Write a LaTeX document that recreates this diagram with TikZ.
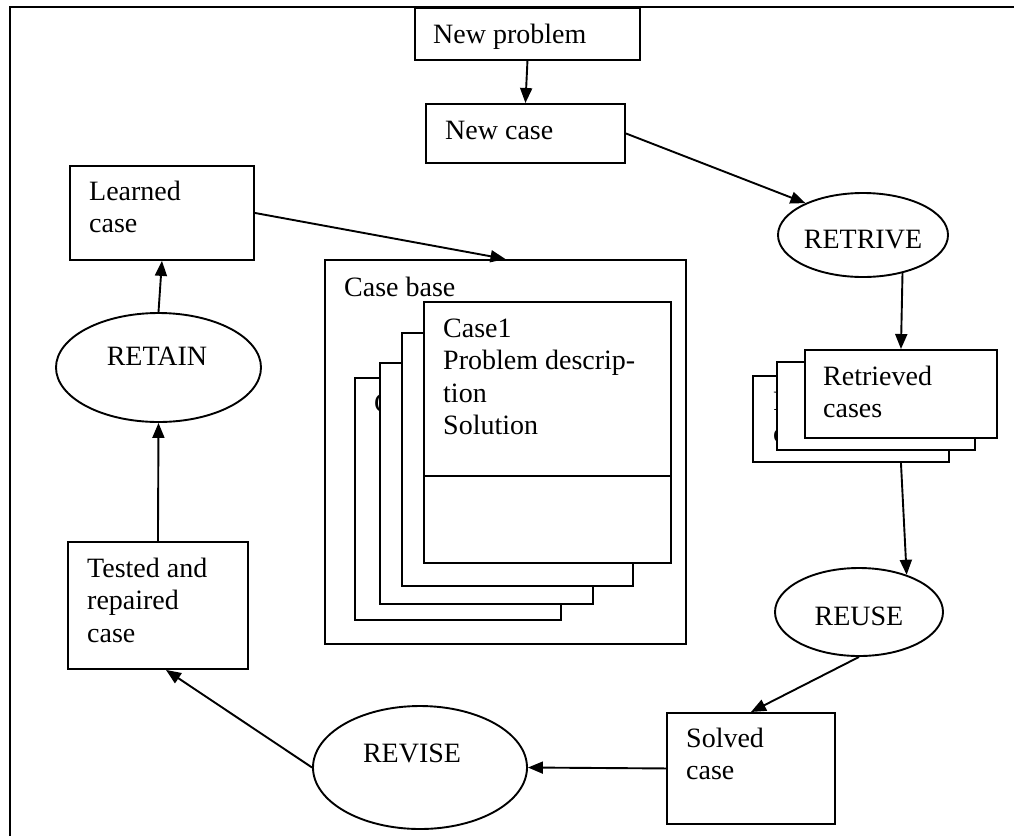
\documentclass[tikz,border=0pt]{standalone}
\usepackage{fontspec}
\setmainfont{Liberation Serif}
\usetikzlibrary{arrows.meta,shapes.geometric}
% left-aligned stack of lines whose baseline is the first line
\newcommand\stk[1]{\vtop{\halign{##\hfil\cr#1\crcr}}}

\begin{document}
\begin{tikzpicture}[x=1pt,y=-1pt,
  box/.style={draw, line width=1.9pt, fill=white, rectangle, inner sep=0pt, anchor=north west},
  oval/.style={draw, line width=1.9pt, fill=white, ellipse, inner sep=0pt},
  txt/.style={inner sep=0pt, anchor=base west, font=\fontsize{28}{32.5}\selectfont},
  ctxt/.style={inner sep=0pt, anchor=base, font=\fontsize{28}{32.5}\selectfont},
  arr/.style={line width=1.9pt, -{Triangle[length=15pt,width=12pt]}},
  frame/.style={line width=2.4pt}]

\useasboundingbox (0,0) rectangle (1014,836);

% outer frame (runs off the page at right and bottom)
\draw[frame] (10,836) -- (10,7) -- (1014,7);

% top: new problem / new case
\node[box, minimum width=225, minimum height=52] (np) at (414,7) {};
\node[txt] (npt) at (433,43) {New problem};
\node[box, minimum width=199, minimum height=59] (nc) at (425,103) {};
\node[txt] (nct) at (445,139) {New case};

% left column
\node[box, minimum width=184, minimum height=94] (lc) at (69,165) {};
\node[txt] (lct) at (89,200) {\stk{Learned\cr case}};
\node[oval, minimum width=205, minimum height=109] (ra) at (158.5,367.5) {};
\node[ctxt] (rat) at (157,365) {RETAIN};
\node[box, minimum width=180, minimum height=127] (tr) at (67,541) {};
\node[txt] (trt) at (87,577) {\stk{Tested and\cr repaired\cr case}};

% case base with its stack of cases
\node[box, minimum width=361, minimum height=384] (cb) at (324,259) {};
\node[txt] (cbt) at (344,296) {Case base};
\node[box, minimum width=206, minimum height=242] (cb4) at (354,377) {};
\node[txt] (cb4t) at (374,412) {C};
\node[box, minimum width=213, minimum height=241] (cb3) at (379,362) {};
\node[box, minimum width=231, minimum height=253] (cb2) at (401,332) {};
\node[box, minimum width=247, minimum height=261] (cb1) at (423,301) {};
\draw[line width=1.9pt] ([yshift=-175pt]cb1.north west) -- ([yshift=-175pt]cb1.north east);
\node[txt] (cb1t) at (443,337) {\stk{Case1\cr Problem descrip-\cr tion\cr Solution}};

% right column
\node[oval, minimum width=170, minimum height=84] (ret) at (863,235) {};
\node[ctxt] (rett) at (863,248) {RETRIVE};
\node[box, minimum width=196, minimum height=86] (rc1) at (752,375) {};
\node[txt] (rc1t) at (773,410) {\stk{R\cr c}};
\node[box, minimum width=198, minimum height=88] (rc2) at (776,361) {};
\node[box, minimum width=192, minimum height=88] (rc3) at (804,349) {};
\node[txt] (rc3t) at (823,385) {\stk{Retrieved\cr cases}};
\node[oval, minimum width=168, minimum height=88] (ru) at (859,612) {};
\node[ctxt] (rut) at (859,625) {REUSE};

% bottom
\node[box, minimum width=168, minimum height=111] (sc) at (666,712) {};
\node[txt] (sct) at (686,747) {\stk{Solved\cr case}};
\node[oval, minimum width=214, minimum height=123] (rv) at (420,767.5) {};
\node[ctxt] (rvt) at (412,762) {REVISE};

% the cycle
\draw[arr] (np.south) -- (nc.north);
\draw[arr] (nc.east) -- (ret.151);
\draw[arr] (ret.-44.5) -- (rc3.north);
\draw[arr] (rc3.north |- rc1.south) -- (ru.38.7);
\draw[arr] (ru.south) -- (sc.north);
\draw[arr] (sc.west) -- (rv.east);
\draw[arr] (rv.west) -- ([xshift=8pt]tr.south);
\draw[arr] (tr.north) -- (ra.south);
\draw[arr] (ra.north) -- (lc.south);
\draw[arr] (lc.east) -- (cb.north);
\end{tikzpicture}
\end{document}
